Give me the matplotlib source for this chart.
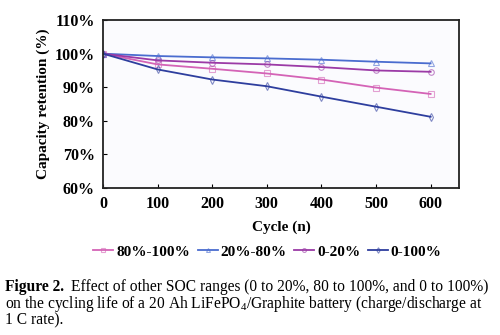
import matplotlib.pyplot as plt

plt.rcParams['font.family'] = ['Liberation Serif', 'DejaVu Serif']
plt.rcParams['mathtext.fontset'] = 'custom'
plt.rcParams['mathtext.rm'] = 'Liberation Serif'

cycles = [0, 100, 200, 300, 400, 500, 600]
soc_80_100 = [100.0, 96.8, 95.5, 94.1, 92.3, 89.9, 88.0]
soc_20_80 = [100.0, 99.3, 98.9, 98.6, 98.2, 97.6, 97.1]
soc_0_20 = [100.0, 98.0, 97.3, 96.8, 96.0, 95.0, 94.6]
soc_0_100 = [100.0, 95.3, 92.3, 90.3, 87.2, 84.2, 81.2]

labels = ['80%-100%', '20%-80%', '0-20%', '0-100%']
colors = ['#d463b6', '#4a6ccf', '#9b3aa6', '#2e3e9e']
markers = ['s', '^', 'o', 'd']
series = [soc_80_100, soc_20_80, soc_0_20, soc_0_100]

fig = plt.figure(figsize=(5, 3.35), dpi=100)
ax = fig.add_axes([0.206, 0.439, 0.712, 0.501])
ax.set_facecolor('#fbfbfe')

for vals, lab, c, m in zip(series, labels, colors, markers):
    ax.plot(cycles, vals, color=c, lw=1.3, marker=m, ms=4,
            mfc='none', mec=c + '99', mew=0.8, label=lab)

ax.set_xlim(0, 652)
ax.set_ylim(60, 110)
ax.set_xticks(cycles)
ax.set_yticks(range(60, 111, 10))
ax.set_yticklabels([f'{v}%' for v in range(60, 111, 10)])
ax.tick_params(direction='in', length=3, width=0.8, labelsize=11.5, pad=6)
for lab in ax.get_xticklabels() + ax.get_yticklabels():
    lab.set_fontweight('bold')
for sp in ax.spines.values():
    sp.set_linewidth(1.3)
    sp.set_color('#222222')

ax.set_xlabel('Cycle (n)', fontsize=11, fontweight='bold', labelpad=6)
ax.set_ylabel('Capacity retention (%)', fontsize=11, fontweight='bold', labelpad=3)

leg = fig.legend(loc='center', bbox_to_anchor=(0.535, 0.248), ncol=4, frameon=False,
                 prop={'weight': 'bold', 'size': 11}, handlelength=1.3,
                 handletextpad=0.2, columnspacing=0.5, markerscale=0.7)

# caption: bold figure number followed by the plain description
cap_size = 11.2
head = fig.text(0.01, 0.144, 'Figure 2.', fontsize=cap_size, fontweight='bold', va='center')
renderer = fig.canvas.get_renderer()
bb = head.get_window_extent(renderer).transformed(fig.transFigure.inverted())
fig.text(bb.x1 + 0.014, 0.144, 'Effect of other SOC ranges (0 to 20%, 80 to 100%, and 0 to 100%)',
         fontsize=cap_size, va='center')
fig.text(0.01, 0.092, 'on the cycling life of a 20 Ah LiFePO$_4$/Graphite battery (charge/discharge at',
         fontsize=cap_size, va='center')
fig.text(0.01, 0.043, '1 C rate).', fontsize=cap_size, va='center')

fig.savefig('out.png', dpi=100)
